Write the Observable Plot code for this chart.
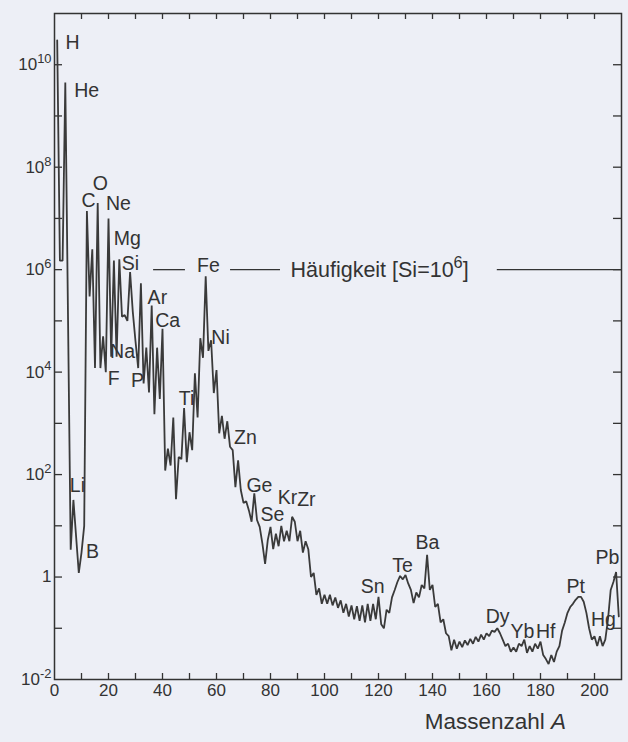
<!DOCTYPE html>
<html><head><meta charset="utf-8">
<script src="https://cdn.jsdelivr.net/npm/d3@7"></script>
<script src="https://cdn.jsdelivr.net/npm/@observablehq/plot@0.6"></script>
<style>
html,body{margin:0;padding:0;background:#edeff6;}
#chart svg{display:block;}
</style></head><body><div id="chart"></div>
<script>
// Mass number A and abundance (Si = 10^6)
const massNumber = [1,2,3,4,6,7,9,10,11,12,13,14,15,16,17,18,19,20,
21,22,23,24,25,26,27,28,29,30,31,32,33,34,35,36,37,38,39,40,
41,42,43,44,45,46,47,48,49,50,51,52,53,54,55,56,57,58,59,60,
61,62,63,64,65,66,67,68,69,70,71,72,73,74,75,76,77,78,79,80,
81,82,83,84,85,86,87,88,89,90,91,92,93,94,95,96,97,98,99,100,
101,102,103,104,105,106,107,108,109,110,111,112,113,114,115,116,117,118,119,120,
121,122,123,124,125,126,127,128,129,130,131,132,133,134,135,136,137,138,139,140,
141,142,143,144,145,146,147,148,149,150,151,152,153,154,155,156,157,158,159,160,
161,162,163,164,165,166,167,168,169,170,171,172,173,174,175,176,177,178,179,180,
181,182,183,184,185,186,187,188,189,190,191,192,193,194,195,196,197,198,199,200,
201,202,203,204,205,206,207,208,209];
const abundance = [3e10,1.5e6,1.5e6,4.5e9,3.4,32,1.2,3,10,1.4e7,3e5,2.5e6,1.2e4,2e7,1.2e4,5e4,1e4,1e7,
2e4,1.5e6,2e4,1.6e6,1.2e5,1.3e5,1e5,9e5,1.5e5,4e4,1.2e4,5.4e5,6e3,3e4,4e3,2e5,1.5e3,3e4,3e3,7e4,
120,320,150,1300,33,220,200,2000,175,670,300,9500,1300,46000,19000,740000,26000,42000,3900,11000,
640,1400,500,1100,350,300,57,190,50,28,30,20,12,43,13,9.5,4.5,1.8,5.3,9.5,
3.5,7,4,10,5,8,5,15,12,5,8,3,5,3.5,1,1.2,0.45,0.6,0.3,0.45,
0.3,0.45,0.28,0.4,0.25,0.35,0.2,0.3,0.17,0.28,0.15,0.27,0.14,0.28,0.13,0.3,0.14,0.3,0.15,0.41,
0.12,0.1,0.23,0.2,0.4,0.56,0.8,1.05,0.9,1.1,0.75,0.56,0.31,0.5,0.4,0.7,0.6,2.7,0.56,0.7,
0.26,0.3,0.13,0.15,0.08,0.07,0.037,0.06,0.04,0.055,0.043,0.058,0.047,0.062,0.05,0.068,0.055,0.075,0.06,0.08,
0.07,0.09,0.085,0.1,0.08,0.06,0.045,0.05,0.035,0.042,0.035,0.05,0.045,0.06,0.033,0.045,0.035,0.05,0.04,0.055,
0.03,0.025,0.02,0.03,0.022,0.035,0.045,0.09,0.13,0.2,0.26,0.3,0.36,0.41,0.41,0.33,0.2,0.1,0.06,0.07,
0.045,0.07,0.045,0.06,0.15,0.56,0.8,1.25,0.17];

// Element labels: name, mass-number anchor, log10 abundance anchor
const elementNames = ["H","He","Li","B","C","O","Ne","Mg","Si","Na","F","P","Ar","Ca","Ti","Fe","Ni","Zn","Ge","Se","Kr","Zr","Sn","Te","Ba","Dy","Yb","Hf","Pt","Hg","Pb"];
const elementA     = [6.7,11.9,8.5,14.1,12.6,17,23.7,27,28.1,25.2,21.9,30.7,38.1,41.9,48.9,57,61.5,70.7,75.9,80.7,86.3,93.3,117.8,128.9,138.1,164.1,173.3,181.9,193,203.3,204.8];
const elementLog   = [10.43,9.49,1.79,0.49,7.35,7.68,7.29,6.6,6.12,4.39,3.88,3.84,5.46,5.01,3.48,6.08,4.68,2.71,1.79,1.21,1.54,1.5,-0.195,0.23,0.66,-0.78,-1.07,-1.07,-0.195,-0.84,0.37];

const keyLabel = "Häufigkeit [Si=10^6]";
const keyLevel = 1e6;
const keyTextA = 87.4;
const keySegStart = [36.7, 65.2, 164];
const keySegEnd   = [48.5, 83.7, 210];

const xLabelTicks = [0,20,40,60,80,100,120,140,160,180,200];
const xMinorTicks = [10,20,30,40,50,60,70,80,90,100,110,120,130,140,150,160,170,180,190,200];
const yLabelTicks = [1e-2,1,1e2,1e4,1e6,1e8,1e10];
const yMinorTicks = [1e-1,1,1e1,1e2,1e3,1e4,1e5,1e6,1e7,1e8,1e9,1e10];
const xTitle = "Massenzahl A";
const xTitleA = 163.3;

const W = 628, H = 742, mL = 54, mR = 7, mT = 13, mB = 63;
const innerW = W - mL - mR, innerH = H - mT - mB;
const ink = "#333";
const font = "'Liberation Sans', Arial, Helvetica, sans-serif";

const series = massNumber.map((a, i) => ({a, v: abundance[i]}));
const labels = elementNames.map((n, i) => ({n, a: elementA[i], v: Math.pow(10, elementLog[i])}));
const segs = keySegStart.map((s, i) => ({x1: s, x2: keySegEnd[i]}));

const chart = Plot.plot({
  width: W, height: H,
  marginLeft: mL, marginRight: mR, marginTop: mT, marginBottom: mB,
  style: {background: "transparent", fontFamily: font, color: ink},
  x: {domain: [0, 210], label: null},
  y: {type: "log", domain: [1e-2, 1e11], label: null},
  marks: [
    Plot.frame({stroke: ink, strokeWidth: 1.5}),
    Plot.tickY(yMinorTicks, {y: d => d, insetRight: innerW - 8, stroke: ink, strokeWidth: 1.3}),
    Plot.tickY(yMinorTicks, {y: d => d, insetLeft: innerW - 8, stroke: ink, strokeWidth: 1.3}),
    Plot.tickX(xMinorTicks, {x: d => d, insetTop: innerH - 6, stroke: ink, strokeWidth: 1.3}),
    Plot.tickX(xMinorTicks, {x: d => d, insetBottom: innerH - 6, stroke: ink, strokeWidth: 1.3}),
    Plot.axisY({ticks: yLabelTicks, tickSize: 0, tickPadding: 3, fontSize: 17, fill: ink, label: null,
      tickFormat: d => d === 1 ? "1" : "10^" + Math.round(Math.log10(d))}),
    Plot.axisX({ticks: xLabelTicks, tickSize: 0, tickPadding: 4, fontSize: 17, fill: ink, label: null,
      tickFormat: d => String(d)}),
    Plot.line(series, {x: "a", y: "v", stroke: "#3a3a3a", strokeWidth: 1.8, strokeLinejoin: "miter"}),
    Plot.ruleY(segs, {y: () => keyLevel, x1: "x1", x2: "x2", stroke: ink, strokeWidth: 1.3}),
    Plot.text([keyLabel], {x: () => keyTextA, y: () => keyLevel, textAnchor: "start", fontSize: 21.5, fill: ink}),
    Plot.text(labels, {x: "a", y: "v", text: "n", fontSize: 19.5, fill: ink}),
    Plot.text([xTitle], {x: () => xTitleA, frameAnchor: "bottom", dy: 49, fontSize: 22.5, fill: ink})
  ]
});
document.getElementById("chart").appendChild(chart);

// superscripts and italics as real text
d3.select(chart).selectAll("text").each(function() {
  const t = this.textContent;
  const el = d3.select(this);
  const m = t.match(/^(.*)\^(-?\d+)(.*)$/);
  if (m) {
    el.text(null);
    el.append("tspan").text(m[1]);
    el.append("tspan").attr("dy", "-0.55em").attr("font-size", "0.76em").text(m[2]);
    if (m[3]) el.append("tspan").attr("dy", "0.42em").text(m[3]);
  } else if (t === xTitle) {
    el.text(null);
    el.append("tspan").text("Massenzahl ");
    el.append("tspan").attr("font-style", "italic").text("A");
  }
});
</script></body></html>
